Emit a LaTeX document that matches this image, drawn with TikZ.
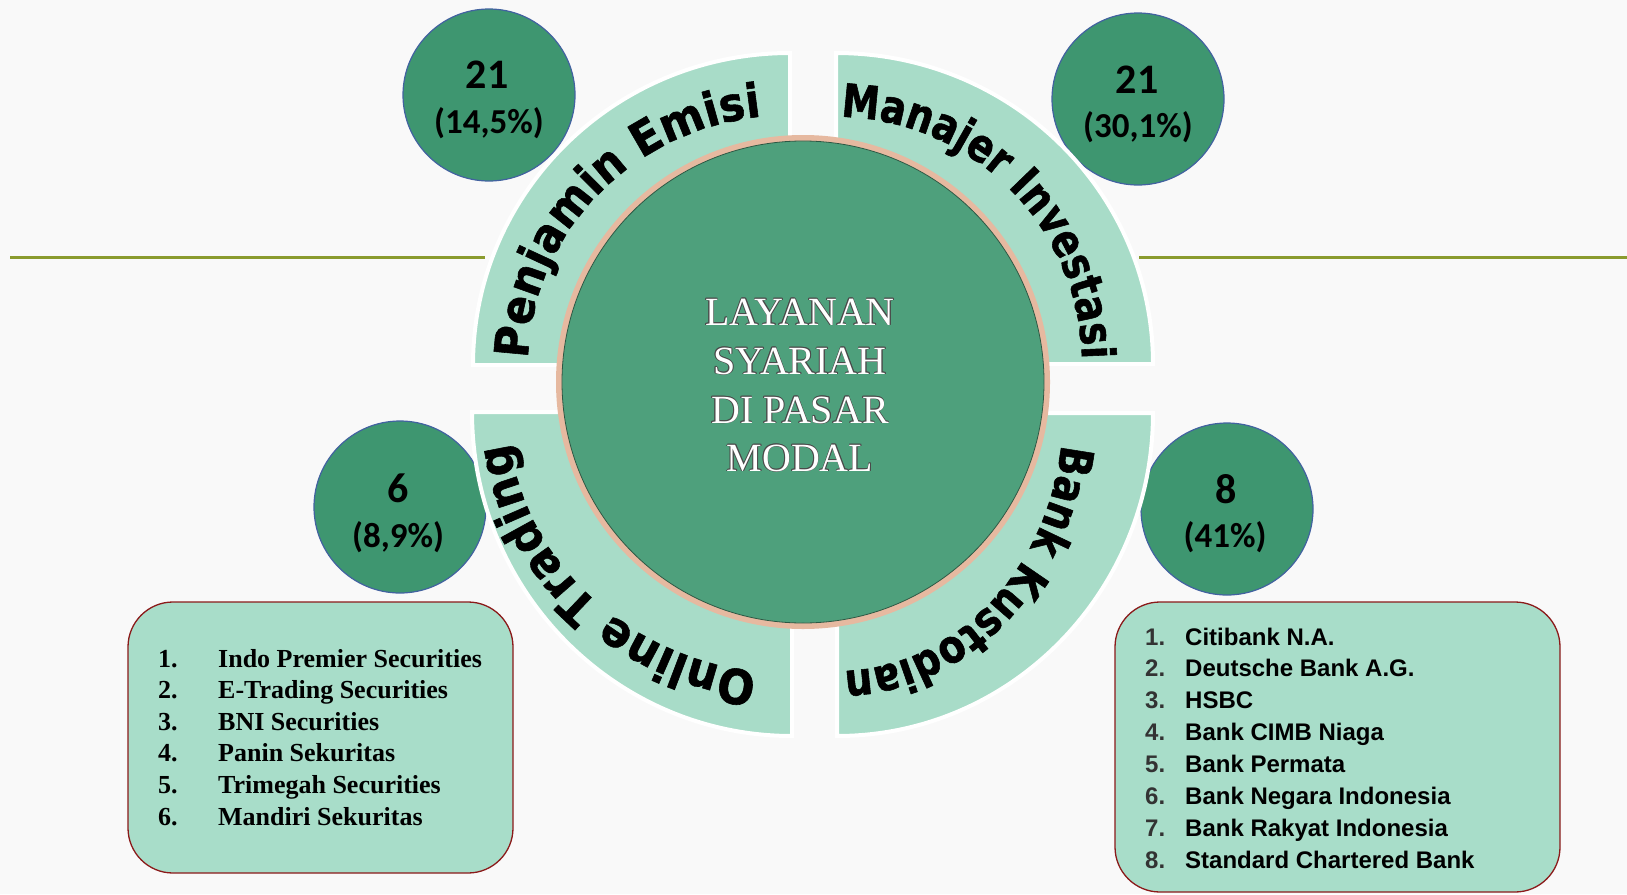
\documentclass[tikz,border=0pt]{standalone}
\usepackage{fontspec}
\setmainfont{Liberation Serif}
\newfontfamily\calib{Carlito}
\newfontfamily\arialf{Liberation Sans}
\newfontfamily\arcA{DejaVu Sans}[FakeStretch=0.91,FakeBold=1.2]
\newfontfamily\arcB{DejaVu Sans}[FakeStretch=0.82,FakeBold=1.2]
\newfontfamily\arcC{DejaVu Sans}[FakeStretch=0.84,FakeBold=1.2]
\usetikzlibrary{decorations.text}
\definecolor{bg}{HTML}{F9F9F9}
\definecolor{mint}{HTML}{A8DCC8}
\definecolor{boxfill}{HTML}{A8DDC9}
\definecolor{dgreen}{HTML}{3E9670}
\definecolor{cgreen}{HTML}{4EA07C}
\definecolor{cborder}{HTML}{4262A0}
\definecolor{olive}{HTML}{8A9B2E}
\definecolor{tanring}{HTML}{E6B9A0}
\definecolor{boxborder}{HTML}{8B1A1A}
\definecolor{outl}{HTML}{4A4A4A}
\definecolor{numgray}{HTML}{333333}
\newcommand\myengr[1]{\setbox0\hbox{#1}%
\rlap{\color{outl}\kern-0.7pt\copy0}%
\rlap{\color{outl}\kern0.7pt\copy0}%
\rlap{\color{outl}\raise0.7pt\copy0}%
\rlap{\color{outl}\lower0.7pt\copy0}%
\rlap{\color{outl}\kern0.5pt\raise0.5pt\copy0}%
\rlap{\color{outl}\kern-0.5pt\raise0.5pt\copy0}%
\rlap{\color{outl}\kern0.5pt\lower0.5pt\copy0}%
\rlap{\color{outl}\kern-0.5pt\lower0.5pt\copy0}%
{\color{white}\box0}}
\begin{document}
\begin{tikzpicture}[x=1pt,y=-1pt,
  sector/.style={fill=mint, draw=white, line width=4pt},
  bubble/.style={circle, fill=dgreen, draw=cborder, line width=1.2pt, minimum size=172pt, inner sep=0pt},
  bignum/.style={font=\calib\bfseries\fontsize{42}{42}\selectfont, anchor=base, inner sep=0pt},
  pct/.style={font=\calib\bfseries\fontsize{35}{35}\selectfont, anchor=base, inner sep=0pt},
  listbox/.style={rectangle, rounded corners=45pt, fill=boxfill, draw=boxborder, line width=1.3pt, inner sep=0pt},
  sline/.style={olive, line width=3pt},
  ltext/.style={font=\bfseries\fontsize{26}{26}\selectfont, anchor=base west, inner sep=0pt},
  rnum/.style={font=\arialf\bfseries\fontsize{24}{24}\selectfont, text=numgray, anchor=base west, inner sep=0pt},
  rtext/.style={font=\arialf\bfseries\fontsize{24}{24}\selectfont, anchor=base west, inner sep=0pt},
  ctext/.style={font=\fontsize{40}{40}\selectfont, anchor=base, inner sep=0pt}
]
\useasboundingbox (0,0) rectangle (1627,894);
\fill[bg] (0,0) rectangle (1627,894);

% horizontal lines
\coordinate (la) at (10,257.5);
\coordinate (lb) at (485,257.5);
\coordinate (ra) at (1139,257.5);
\coordinate (rb) at (1627,257.5);
\draw[sline] (la) -- (lb);
\draw[sline] (ra) -- (rb);

% bubbles
\node[bubble] (c1) at (489,95) {};
\node[bubble] (c2) at (1138,99) {};
\node[bubble] (c3) at (400,507) {};
\node[bubble] (c4) at (1227,509) {};

% sectors
\path[sector] (790,365) -- ++(-317,0) arc[start angle=-180, end angle=-90, x radius=317, y radius=312] -- cycle;
\path[sector] (836,364) -- ++(0,-311) arc[start angle=-90, end angle=0, x radius=317, y radius=311] -- cycle;
\path[sector] (792,412) -- ++(-320,0) arc[start angle=180, end angle=90, x radius=320, y radius=324] -- cycle;
\path[sector] (837,413) -- ++(316,0) arc[start angle=0, end angle=90, x radius=316, y radius=323] -- cycle;

% central circle
\node[circle, fill=cgreen, draw=tanring, line width=6pt, minimum size=488pt, inner sep=0pt] (core) at (803,382) {};
\draw[color=black!45!cgreen, line width=0.8pt] (core.center) circle[radius=241];

% arc labels
\path[decorate, decoration={text along path, text align=center,
  text={|\arcA\bfseries\fontsize{47}{47}\selectfont|Penjamin Emisi}}]
  (790,365) ++(-184.5:262 and 250) arc[start angle=-184.5, end angle=-90.5, x radius=262, y radius=250];
\path[decorate, decoration={text along path, text align=center,
  text={|\arcB\bfseries\fontsize{46}{46}\selectfont|Manajer Investasi}}]
  (836,364) ++(-92:246 and 247) arc[start angle=-92, end angle=2, x radius=246, y radius=247];
\path[decorate, decoration={text along path, text align=center,
  text={|\arcA\bfseries\fontsize{48}{48}\selectfont|Online Trading}}]
  (792,412) ++(88.5:284 and 262) arc[start angle=88.5, end angle=182.5, x radius=284, y radius=262];
\path[decorate, decoration={text along path, text align=center,
  text={|\arcC\bfseries\fontsize{46}{46}\selectfont|Bank Kustodian}}]
  (837,413) ++(2:226 and 258) arc[start angle=2, end angle=94, x radius=226, y radius=258];

% centre text
\node[ctext] (t1) at (800,325) {\myengr{LAYANAN}};
\node[ctext] (t2) at (800,374) {\myengr{SYARIAH}};
\node[ctext] (t3) at (800,423) {\myengr{DI PASAR}};
\node[ctext] (t4) at (800,471) {\myengr{MODAL}};

% bubble texts
\node[bignum] (n1) at (487,88) {21};
\node[pct] (p1) at (489,133) {(14,5\%)};
\node[bignum] (n2) at (1137,93) {21};
\node[pct] (p2) at (1138,137) {(30,1\%)};
\node[bignum] (n3) at (398,502) {6};
\node[pct] (p3) at (398,547) {(8,9\%)};
\node[bignum] (n4) at (1226,503) {8};
\node[pct] (p4) at (1225,547) {(41\%)};

% left box
\node[listbox, minimum width=385pt, minimum height=271pt] (lbox) at (320.5,737.5) {};
\node[ltext] (ln1) at (158,667) {1.};
\node[ltext] (ln2) at (158,698.6) {2.};
\node[ltext] (ln3) at (158,730.2) {3.};
\node[ltext] (ln4) at (158,761.8) {4.};
\node[ltext] (ln5) at (158,793.4) {5.};
\node[ltext] (ln6) at (158,825) {6.};
\node[ltext] (lt1) at (218,667) {Indo Premier Securities};
\node[ltext] (lt2) at (218,698.6) {E-Trading Securities};
\node[ltext] (lt3) at (218,730.2) {BNI Securities};
\node[ltext] (lt4) at (218,761.8) {Panin Sekuritas};
\node[ltext] (lt5) at (218,793.4) {Trimegah Securities};
\node[ltext] (lt6) at (218,825) {Mandiri Sekuritas};

% right box
\node[listbox, minimum width=445pt, minimum height=290pt] (rbox) at (1337.5,747) {};
\node[rnum] (rn1) at (1145,645) {1.};
\node[rnum] (rn2) at (1145,676.9) {2.};
\node[rnum] (rn3) at (1145,708.8) {3.};
\node[rnum] (rn4) at (1145,740.7) {4.};
\node[rnum] (rn5) at (1145,772.6) {5.};
\node[rnum] (rn6) at (1145,804.5) {6.};
\node[rnum] (rn7) at (1145,836.4) {7.};
\node[rnum] (rn8) at (1145,868.3) {8.};
\node[rtext] (rt1) at (1185,645) {Citibank N.A.};
\node[rtext] (rt2) at (1185,676.9) {Deutsche Bank A.G.};
\node[rtext] (rt3) at (1185,708.8) {HSBC};
\node[rtext] (rt4) at (1185,740.7) {Bank CIMB Niaga};
\node[rtext] (rt5) at (1185,772.6) {Bank Permata};
\node[rtext] (rt6) at (1185,804.5) {Bank Negara Indonesia};
\node[rtext] (rt7) at (1185,836.4) {Bank Rakyat Indonesia};
\node[rtext] (rt8) at (1185,868.3) {Standard Chartered Bank};
\end{tikzpicture}
\end{document}
